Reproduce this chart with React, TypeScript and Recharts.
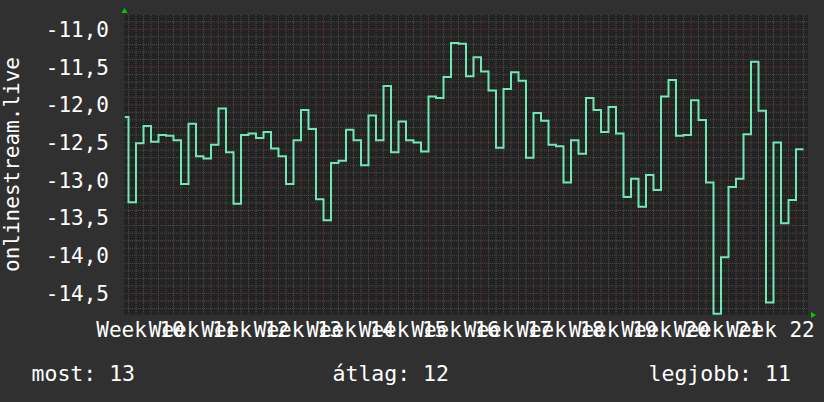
import React from 'react';
import { LineChart, Line, XAxis, YAxis, CartesianGrid, ReferenceDot } from 'recharts';

const weekLabels = [
  'Week 10', 'Week 11', 'Week 12', 'Week 13', 'Week 14', 'Week 15', 'Week 16',
  'Week 17', 'Week 18', 'Week 19', 'Week 20', 'Week 21', 'Week 22',
];

// daily values; the first sample covers only half a day at the left edge
const values = [
  -12.16, -13.29, -12.51, -12.28, -12.49, -12.40, -12.41, -12.47, -13.05, -12.25,
  -12.68, -12.71, -12.53, -12.05, -12.63, -13.31, -12.40, -12.38, -12.44, -12.36,
  -12.58, -12.68, -13.05, -12.47, -12.07, -12.32, -13.25, -13.53, -12.77, -12.74,
  -12.33, -12.47, -12.80, -12.14, -12.47, -11.75, -12.63, -12.22, -12.47, -12.50,
  -12.62, -11.89, -11.91, -11.63, -11.18, -11.19, -11.62, -11.37, -11.56, -11.81,
  -12.57, -11.79, -11.57, -11.68, -12.70, -12.11, -12.21, -12.53, -12.55, -13.03,
  -12.47, -12.65, -11.91, -12.07, -12.36, -12.03, -12.38, -13.22, -12.98, -13.35,
  -12.93, -13.13, -11.89, -11.67, -12.41, -12.40, -11.94, -12.20, -13.03, -14.77,
  -14.02, -13.09, -12.98, -12.39, -11.43, -12.08, -14.62, -12.50, -13.57, -13.26,
  -12.59,
];

const yTicks = [-14.5, -14.0, -13.5, -13.0, -12.5, -12.0, -11.5, -11.0];

const yTitle = 'onlinestream.live';
const summaryTexts = ['most: 13', 'átlag: 12', 'legjobb: 11'];

const FIRST_DAY = -0.5;
const X_MIN = -0.6;
const X_MAX = 90.6;
const Y_MIN = -14.785;
const Y_MAX = -10.81;
const WEEK_LABEL_OFFSET = 1.6;
const MAJOR_OFFSET = 5;

const data = values.map((v, i) => ({ day: i === 0 ? FIRST_DAY : i - 1, value: v }));
data.push({ day: values.length - 1, value: values[values.length - 1] });

const weekTicks = weekLabels.map((_, i) => WEEK_LABEL_OFFSET + 7 * i);
const majorX = weekLabels.map((_, i) => MAJOR_OFFSET + 7 * i);
const minorX: number[] = [];
for (let d = 0; d <= 90; d++) if (!majorX.includes(d)) minorX.push(d);
const minorY: number[] = [];
for (let t = -147; t <= -109; t++) if (t % 5 !== 0) minorY.push(t / 10);

const FONT = '"DejaVu Sans Mono", monospace';
const TEXT = '#ffffff';

const UpArrow = (p: any) => (
  <polygon points={`${p.cx - 2.5},${p.cy - 2} ${p.cx + 3.5},${p.cy - 2} ${p.cx + 0.5},${p.cy - 7}`} fill="#00cc00" />
);
const RightArrow = (p: any) => (
  <polygon points={`${p.cx + 3},${p.cy - 3} ${p.cx + 3},${p.cy + 3} ${p.cx + 8},${p.cy}`} fill="#00cc00" />
);

export default function App() {
  return (
    <div style={{ position: 'absolute', left: 0, top: 0, width: 824, height: 402, background: '#303030' }}>
      <LineChart width={824} height={402} data={data} margin={{ top: 15, right: 16, bottom: 0, left: 0 }}>
        <CartesianGrid
          fill="#232323"
          stroke="#4e4e4e"
          strokeDasharray="1 1"
          horizontalValues={minorY}
          verticalValues={minorX}
        />
        <CartesianGrid
          stroke="#683232"
          strokeDasharray="1 1"
          horizontalValues={yTicks}
          verticalValues={majorX}
        />
        <XAxis
          type="number"
          dataKey="day"
          domain={[X_MIN, X_MAX]}
          allowDataOverflow
          ticks={weekTicks}
          interval={0}
          tickFormatter={(v: number) => weekLabels[Math.round((v - WEEK_LABEL_OFFSET) / 7)]}
          tickLine={false}
          tickSize={0}
          tickMargin={7}
          axisLine={false}
          height={87}
          tick={{ fill: TEXT, fontFamily: FONT, fontSize: 21 }}
        />
        <YAxis
          type="number"
          domain={[Y_MIN, Y_MAX]}
          allowDataOverflow
          ticks={yTicks}
          interval={0}
          tickFormatter={(v: number) => v.toFixed(1).replace('.', ',')}
          tickLine={false}
          tickSize={0}
          tickMargin={15}
          axisLine={false}
          width={124}
          tick={{ fill: TEXT, fontFamily: FONT, fontSize: 21 }}
        />
        <Line
          type="stepAfter"
          dataKey="value"
          stroke="#6fe8b4"
          strokeWidth={2}
          dot={false}
          isAnimationActive={false}
        />
        <ReferenceDot x={X_MIN} y={Y_MAX} r={0} ifOverflow="visible" shape={UpArrow} />
        <ReferenceDot x={X_MAX} y={Y_MIN} r={0} ifOverflow="visible" shape={RightArrow} />
      </LineChart>
      <svg
        width={824}
        height={402}
        style={{ position: 'absolute', left: 0, top: 0, pointerEvents: 'none' }}
      >
        <text
          x={19}
          y={164.5}
          transform="rotate(-90 19 164.5)"
          textAnchor="middle"
          fill={TEXT}
          fontFamily={FONT}
          fontSize={21}
        >
          {yTitle}
        </text>
        <text x={31.5} y={381} fill={TEXT} fontFamily={FONT} fontSize={21.5}>{summaryTexts[0]}</text>
        <text x={332.5} y={381} fill={TEXT} fontFamily={FONT} fontSize={21.5}>{summaryTexts[1]}</text>
        <text x={648.5} y={381} fill={TEXT} fontFamily={FONT} fontSize={21.5}>{summaryTexts[2]}</text>
      </svg>
    </div>
  );
}
